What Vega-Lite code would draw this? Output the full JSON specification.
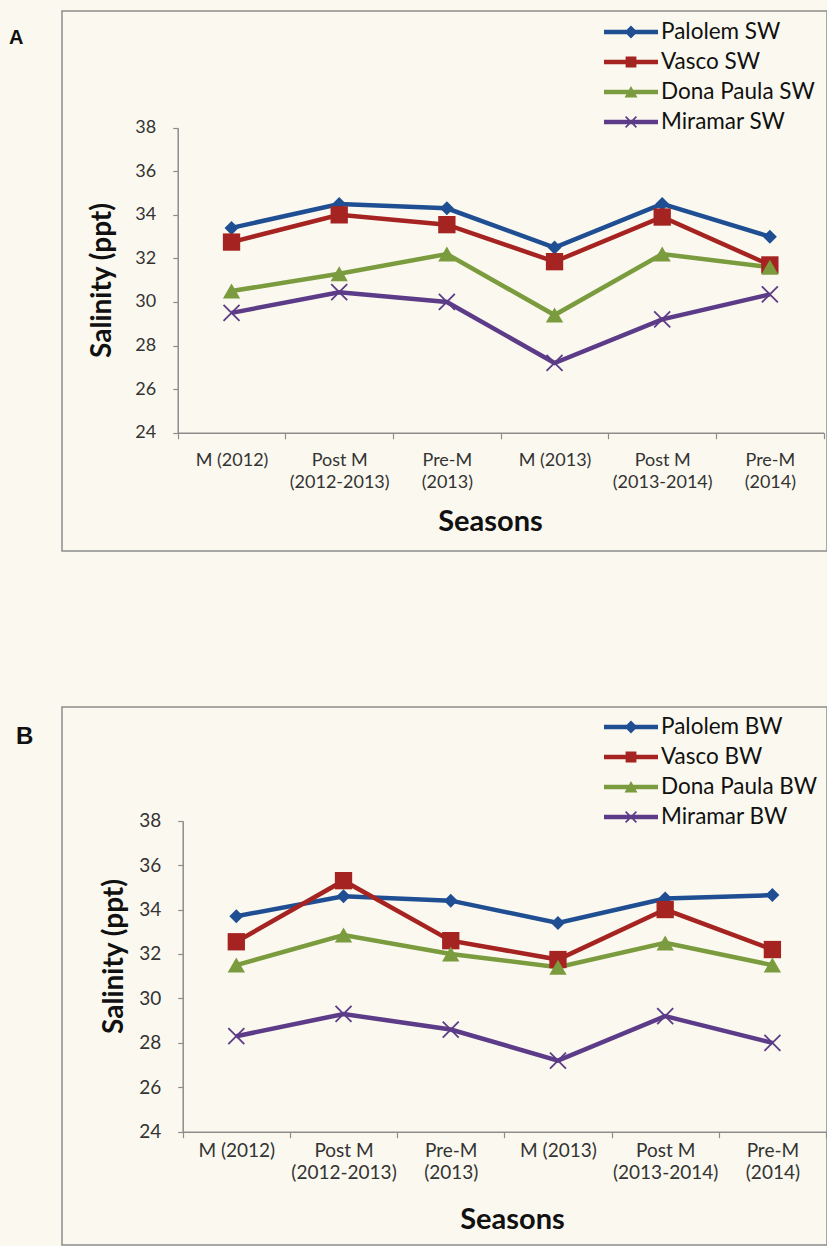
{
  "$schema": "https://vega.github.io/schema/vega-lite/v6.json",
  "background": "#fbf9ef",
  "padding": {"left": 8, "top": 10, "right": 0, "bottom": 0},
  "autosize": {"type": "pad"},
  "spacing": 154,
  "resolve": {"scale": {"color": "independent", "x": "independent", "y": "independent"}, "legend": {"color": "independent"}},
  "datasets": {
    "A": [
      {"season": "M (2012)", "series": "Palolem SW", "value": 33.4},
      {"season": "Post M (2012-2013)", "series": "Palolem SW", "value": 34.5},
      {"season": "Pre-M (2013)", "series": "Palolem SW", "value": 34.3},
      {"season": "M (2013)", "series": "Palolem SW", "value": 32.5},
      {"season": "Post M (2013-2014)", "series": "Palolem SW", "value": 34.5},
      {"season": "Pre-M (2014)", "series": "Palolem SW", "value": 33.0},
      {"season": "M (2012)", "series": "Vasco SW", "value": 32.75},
      {"season": "Post M (2012-2013)", "series": "Vasco SW", "value": 34.0},
      {"season": "Pre-M (2013)", "series": "Vasco SW", "value": 33.55},
      {"season": "M (2013)", "series": "Vasco SW", "value": 31.85},
      {"season": "Post M (2013-2014)", "series": "Vasco SW", "value": 33.9},
      {"season": "Pre-M (2014)", "series": "Vasco SW", "value": 31.7},
      {"season": "M (2012)", "series": "Dona Paula SW", "value": 30.5},
      {"season": "Post M (2012-2013)", "series": "Dona Paula SW", "value": 31.3},
      {"season": "Pre-M (2013)", "series": "Dona Paula SW", "value": 32.2},
      {"season": "M (2013)", "series": "Dona Paula SW", "value": 29.4},
      {"season": "Post M (2013-2014)", "series": "Dona Paula SW", "value": 32.2},
      {"season": "Pre-M (2014)", "series": "Dona Paula SW", "value": 31.6},
      {"season": "M (2012)", "series": "Miramar SW", "value": 29.5},
      {"season": "Post M (2012-2013)", "series": "Miramar SW", "value": 30.45},
      {"season": "Pre-M (2013)", "series": "Miramar SW", "value": 30.0},
      {"season": "M (2013)", "series": "Miramar SW", "value": 27.2},
      {"season": "Post M (2013-2014)", "series": "Miramar SW", "value": 29.2},
      {"season": "Pre-M (2014)", "series": "Miramar SW", "value": 30.35}
    ],
    "B": [
      {"season": "M (2012)", "series": "Palolem BW", "value": 33.7},
      {"season": "Post M (2012-2013)", "series": "Palolem BW", "value": 34.6},
      {"season": "Pre-M (2013)", "series": "Palolem BW", "value": 34.4},
      {"season": "M (2013)", "series": "Palolem BW", "value": 33.4},
      {"season": "Post M (2013-2014)", "series": "Palolem BW", "value": 34.5},
      {"season": "Pre-M (2014)", "series": "Palolem BW", "value": 34.65},
      {"season": "M (2012)", "series": "Vasco BW", "value": 32.55},
      {"season": "Post M (2012-2013)", "series": "Vasco BW", "value": 35.3},
      {"season": "Pre-M (2013)", "series": "Vasco BW", "value": 32.6},
      {"season": "M (2013)", "series": "Vasco BW", "value": 31.75},
      {"season": "Post M (2013-2014)", "series": "Vasco BW", "value": 34.0},
      {"season": "Pre-M (2014)", "series": "Vasco BW", "value": 32.2},
      {"season": "M (2012)", "series": "Dona Paula BW", "value": 31.5},
      {"season": "Post M (2012-2013)", "series": "Dona Paula BW", "value": 32.85},
      {"season": "Pre-M (2013)", "series": "Dona Paula BW", "value": 32.0},
      {"season": "M (2013)", "series": "Dona Paula BW", "value": 31.4},
      {"season": "Post M (2013-2014)", "series": "Dona Paula BW", "value": 32.5},
      {"season": "Pre-M (2014)", "series": "Dona Paula BW", "value": 31.5},
      {"season": "M (2012)", "series": "Miramar BW", "value": 28.3},
      {"season": "Post M (2012-2013)", "series": "Miramar BW", "value": 29.3},
      {"season": "Pre-M (2013)", "series": "Miramar BW", "value": 28.6},
      {"season": "M (2013)", "series": "Miramar BW", "value": 27.2},
      {"season": "Post M (2013-2014)", "series": "Miramar BW", "value": 29.2},
      {"season": "Pre-M (2014)", "series": "Miramar BW", "value": 28.0}
    ]
  },
  "config": {
    "view": {"stroke": "#8c8c8c", "strokeWidth": 1.5},
    "axis": {
      "labelFont": "Lato", "labelFontSize": 18, "labelColor": "#333333",
      "titleFont": "Lato", "titleFontSize": 29, "titleFontWeight": "bold", "titleColor": "#111111",
      "domainColor": "#8c8c8c", "domainWidth": 1.5, "tickColor": "#8c8c8c", "tickWidth": 1.2, "grid": false
    },
    "legend": {
      "orient": "none", "title": null, "padding": 0,
      "symbolSize": 2916, "clipHeight": 30, "rowPadding": 0, "labelOffset": 3, "symbolOffset": 0,
      "labelFont": "Lato", "labelFontSize": 22.5, "labelColor": "#111111", "labelLimit": 300,
      "symbolStrokeWidth": 0
    }
  },
  "vconcat": [
    {
      "width": 765, "height": 540,
      "title": {"text": "A", "orient": "top", "anchor": "start", "frame": "group", "offset": -34, "dx": -53, "dy": 19, "baseline": "alphabetic", "font": "Liberation Sans", "fontSize": 20, "fontWeight": "bold", "color": "#111111"},
      "data": {"name": "A"},
      "encoding": {
        "x": {
          "field": "season", "type": "nominal",
          "sort": ["M (2012)", "Post M (2012-2013)", "Pre-M (2013)", "M (2013)", "Post M (2013-2014)", "Pre-M (2014)"],
          "scale": {"type": "band", "range": [115.7, 761.7], "paddingInner": 0, "paddingOuter": 0},
          "axis": {
            "title": "Seasons", "titleX": 428, "titleY": 89, "titleBaseline": "middle", "titleAlign": "center",
            "labelExpr": "indexof(datum.label, 'M (') == 0 ? datum.label : [substring(datum.label, 0, indexof(datum.label, ' (')), substring(datum.label, indexof(datum.label, ' (') + 1)]",
            "labelAngle": 0, "labelBaseline": "top", "labelLineHeight": 22, "labelPadding": 13,
            "tickBand": "extent", "tickSize": 6, "offset": -118.3
          }
        },
        "y": {
          "field": "value", "type": "quantitative",
          "scale": {"domain": [24, 38], "range": [421.7, 116.7], "nice": false, "zero": false},
          "axis": {
            "title": "Salinity (ppt)", "titleX": -75, "titleY": 269, "titleBaseline": "middle", "titleAlign": "center", "titleAngle": 270, "titleFontSize": 28,
            "values": [24, 26, 28, 30, 32, 34, 36, 38], "labelPadding": 17, "tickSize": 5, "offset": -115.7
          }
        },
        "color": {
          "field": "series", "type": "nominal",
          "scale": {"domain": ["Palolem SW", "Vasco SW", "Dona Paula SW", "Miramar SW"], "range": ["#1f4e93", "#a52422", "#7b9b3f", "#5c3b88"]},
          "legend": {
            "legendX": 542, "legendY": 6,
            "encode": {"symbols": {"update": {
              "shape": {"signal": "indexof(datum.value,'Palolem')==0 ? 'M-1,-0.085H1V0.085H-1Z M-0.24,0L0,-0.24L0.24,0L0,0.24Z' : indexof(datum.value,'Vasco')==0 ? 'M-1,-0.085H1V0.085H-1Z M-0.2,-0.2H0.2V0.2H-0.2Z' : indexof(datum.value,'Dona')==0 ? 'M-1,-0.085H1V0.085H-1Z M0,-0.22L0.24,0.2L-0.24,0.2Z' : 'M-1,-0.085H1V0.085H-1Z M-0.179,-0.221L0.221,0.179L0.179,0.221L-0.221,-0.179Z M-0.221,0.179L0.179,-0.221L0.221,-0.179L-0.179,0.221Z'"},
              "fill": {"signal": "indexof(datum.value,'Palolem')==0 ? '#1f4e93' : indexof(datum.value,'Vasco')==0 ? '#a52422' : indexof(datum.value,'Dona')==0 ? '#7b9b3f' : '#5c3b88'"},
              "size": {"value": 2916},
              "stroke": {"value": "transparent"},
              "strokeWidth": {"value": 0},
              "opacity": {"value": 1}
            }}}
          }
        }
      },
      "layer": [
        {"mark": {"type": "line", "strokeWidth": 4.5}},
        {"transform": [{"filter": "indexof(datum.series,'Palolem')==0"}], "mark": {"type": "point", "shape": "diamond", "size": 196, "filled": true, "opacity": 1}},
        {"transform": [{"filter": "indexof(datum.series,'Vasco')==0"}], "mark": {"type": "point", "shape": "square", "size": 300, "filled": true, "opacity": 1}},
        {"transform": [{"filter": "indexof(datum.series,'Dona')==0"}], "mark": {"type": "point", "shape": "triangle-up", "size": 300, "filled": true, "opacity": 1}},
        {"transform": [{"filter": "indexof(datum.series,'Miramar')==0"}], "mark": {"type": "point", "shape": "M-1,-1L1,1M-1,1L1,-1", "size": 256, "filled": false, "strokeWidth": 1.8, "opacity": 1}}
      ]
    },
    {
      "width": 765, "height": 538,
      "title": {"text": "B", "orient": "top", "anchor": "start", "frame": "group", "offset": -38, "dx": -46, "dy": 23, "baseline": "alphabetic", "font": "Liberation Sans", "fontSize": 24, "fontWeight": "bold", "color": "#111111"},
      "data": {"name": "B"},
      "encoding": {
        "x": {
          "field": "season", "type": "nominal",
          "sort": ["M (2012)", "Post M (2012-2013)", "Pre-M (2013)", "M (2013)", "Post M (2013-2014)", "Pre-M (2014)"],
          "scale": {"type": "band", "range": [120.7, 764], "paddingInner": 0, "paddingOuter": 0},
          "axis": {
            "title": "Seasons", "titleX": 450, "titleY": 88, "titleBaseline": "middle", "titleAlign": "center",
            "labelExpr": "indexof(datum.label, 'M (') == 0 ? datum.label : [substring(datum.label, 0, indexof(datum.label, ' (')), substring(datum.label, indexof(datum.label, ' (') + 1)]",
            "labelAngle": 0, "labelBaseline": "top", "labelLineHeight": 22, "labelPadding": 4, "labelFontSize": 19,
            "tickBand": "extent", "tickSize": 6, "offset": -113.3
          }
        },
        "y": {
          "field": "value", "type": "quantitative",
          "scale": {"domain": [24, 38], "range": [424.7, 113.7], "nice": false, "zero": false},
          "axis": {
            "title": "Salinity (ppt)", "titleX": -68, "titleY": 249, "titleBaseline": "middle", "titleAlign": "center", "titleAngle": 270, "titleFontSize": 28,
            "values": [24, 26, 28, 30, 32, 34, 36, 38], "labelPadding": 17, "tickSize": 5, "offset": -120.7, "labelFontSize": 19
          }
        },
        "color": {
          "field": "series", "type": "nominal",
          "scale": {"domain": ["Palolem BW", "Vasco BW", "Dona Paula BW", "Miramar BW"], "range": ["#1f4e93", "#a52422", "#7b9b3f", "#5c3b88"]},
          "legend": {
            "legendX": 542, "legendY": 5,
            "encode": {"symbols": {"update": {
              "shape": {"signal": "indexof(datum.value,'Palolem')==0 ? 'M-1,-0.085H1V0.085H-1Z M-0.24,0L0,-0.24L0.24,0L0,0.24Z' : indexof(datum.value,'Vasco')==0 ? 'M-1,-0.085H1V0.085H-1Z M-0.2,-0.2H0.2V0.2H-0.2Z' : indexof(datum.value,'Dona')==0 ? 'M-1,-0.085H1V0.085H-1Z M0,-0.22L0.24,0.2L-0.24,0.2Z' : 'M-1,-0.085H1V0.085H-1Z M-0.179,-0.221L0.221,0.179L0.179,0.221L-0.221,-0.179Z M-0.221,0.179L0.179,-0.221L0.221,-0.179L-0.179,0.221Z'"},
              "fill": {"signal": "indexof(datum.value,'Palolem')==0 ? '#1f4e93' : indexof(datum.value,'Vasco')==0 ? '#a52422' : indexof(datum.value,'Dona')==0 ? '#7b9b3f' : '#5c3b88'"},
              "size": {"value": 2916},
              "stroke": {"value": "transparent"},
              "strokeWidth": {"value": 0},
              "opacity": {"value": 1}
            }}}
          }
        }
      },
      "layer": [
        {"mark": {"type": "line", "strokeWidth": 4.5}},
        {"transform": [{"filter": "indexof(datum.series,'Palolem')==0"}], "mark": {"type": "point", "shape": "diamond", "size": 196, "filled": true, "opacity": 1}},
        {"transform": [{"filter": "indexof(datum.series,'Vasco')==0"}], "mark": {"type": "point", "shape": "square", "size": 300, "filled": true, "opacity": 1}},
        {"transform": [{"filter": "indexof(datum.series,'Dona')==0"}], "mark": {"type": "point", "shape": "triangle-up", "size": 300, "filled": true, "opacity": 1}},
        {"transform": [{"filter": "indexof(datum.series,'Miramar')==0"}], "mark": {"type": "point", "shape": "M-1,-1L1,1M-1,1L1,-1", "size": 256, "filled": false, "strokeWidth": 1.8, "opacity": 1}}
      ]
    }
  ]
}
